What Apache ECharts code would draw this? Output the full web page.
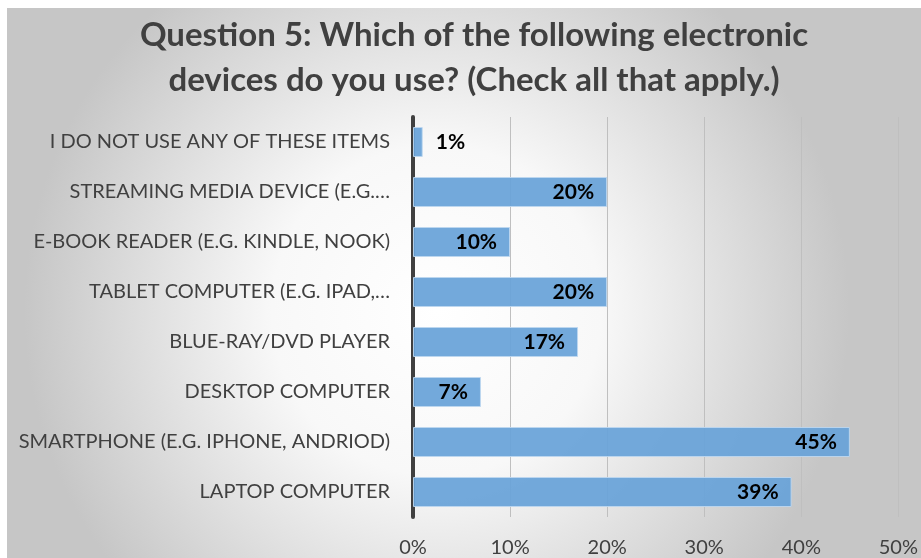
<!DOCTYPE html>
<html>
<head>
<meta charset="utf-8">
<script src="https://cdn.jsdelivr.net/npm/echarts@6/dist/echarts.min.js"></script>
<style>
  html, body { margin: 0; padding: 0; background: #ffffff; }
  #chart { width: 921px; height: 558px; }
</style>
</head>
<body>
<div id="chart"></div>
<script>
// Survey answers, top to bottom
const categories = [
  'I DO NOT USE ANY OF THESE ITEMS',
  'STREAMING MEDIA DEVICE (E.G.…',
  'E-BOOK READER (E.G. KINDLE, NOOK)',
  'TABLET COMPUTER (E.G. IPAD,…',
  'BLUE-RAY/DVD PLAYER',
  'DESKTOP COMPUTER',
  'SMARTPHONE (E.G. IPHONE, ANDRIOD)',
  'LAPTOP COMPUTER'
];
// Share of respondents, in percent
const shares = [1, 20, 10, 20, 17, 7, 45, 39];
const axisTicks = [0, 10, 20, 30, 40, 50];

const titleText = 'Question 5: Which of the following electronic\ndevices do you use? (Check all that apply.)';
const FONT = 'Lato';

const chart = echarts.init(document.getElementById('chart'), null, { renderer: 'canvas' });

chart.setOption({
  backgroundColor: '#ffffff',
  animation: false,
  graphic: [{
    type: 'rect',
    z: -10,
    silent: true,
    shape: { x: 7, y: 8, width: 914, height: 550 },
    style: {
      fill: {
        type: 'radial', x: 0.47, y: 0.55, r: 0.75,
        colorStops: [
          { offset: 0, color: '#ffffff' },
          { offset: 0.4, color: '#f8f8f8' },
          { offset: 1, color: '#c6c6c6' }
        ]
      }
    }
  }],
  title: {
    text: titleText,
    left: 469,
    top: 8,
    textAlign: 'center',
    textStyle: {
      fontFamily: FONT,
      fontWeight: 'bold',
      fontSize: 33,
      lineHeight: 45,
      color: '#404040'
    }
  },
  grid: { left: 413, right: 20, top: 117, bottom: 41, containLabel: false },
  xAxis: {
    type: 'value',
    min: axisTicks[0],
    max: axisTicks[axisTicks.length - 1],
    interval: 10,
    axisLine: { show: false },
    axisTick: { show: false },
    splitLine: { show: true, lineStyle: { color: '#bfbfbf', width: 1 } },
    axisLabel: {
      formatter: v => v + '%',
      fontFamily: FONT,
      fontSize: 20,
      color: '#404040',
      margin: 21
    }
  },
  yAxis: {
    type: 'category',
    data: categories,
    inverse: true,
    axisLine: { show: true, lineStyle: { color: '#404040', width: 4 } },
    axisTick: { show: false },
    axisLabel: {
      fontFamily: FONT,
      fontSize: 20,
      color: '#404040',
      margin: 23
    }
  },
  series: [{
    type: 'bar',
    data: shares.map(v => ({
      value: v,
      label: { position: v < 5 ? 'right' : 'insideRight' }
    })),
    barCategoryGap: '40%',
    itemStyle: {
      color: 'rgba(104, 162, 216, 0.93)',
      borderColor: 'rgba(190, 215, 240, 0.9)',
      borderWidth: 1
    },
    label: {
      show: true,
      formatter: p => p.value + '%',
      fontFamily: FONT,
      fontWeight: 'bold',
      fontSize: 21,
      color: '#000000',
      distance: 13
    }
  }]
});
</script>
</body>
</html>
